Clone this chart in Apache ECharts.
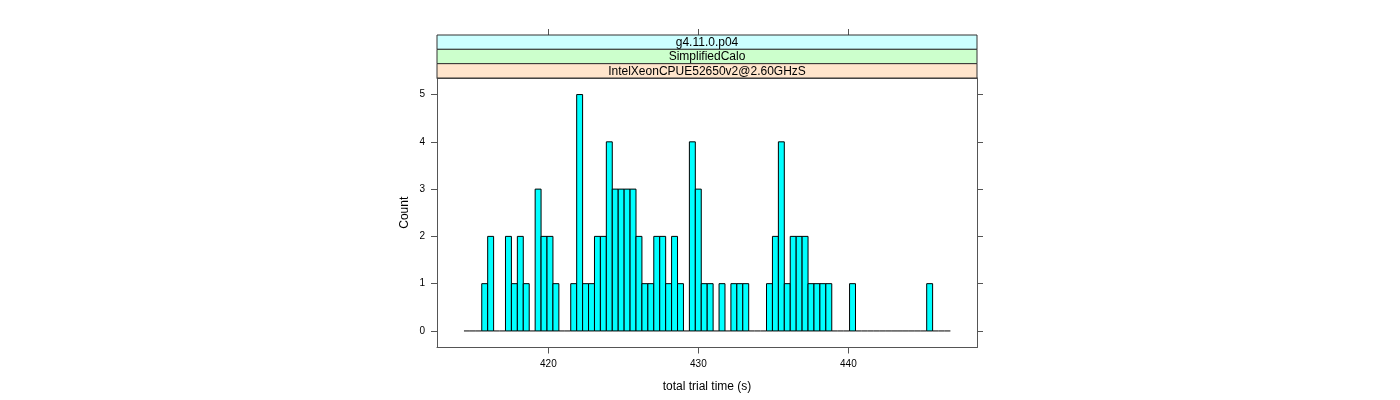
<!DOCTYPE html>
<html><head><meta charset="utf-8">
<script src="https://cdn.jsdelivr.net/npm/echarts@6/dist/echarts.min.js"></script>
<style>html,body{margin:0;padding:0;background:#fff}#c{width:1400px;height:400px}</style>
</head><body><div id="c"></div>
<script>
// Histogram bins: first break and bin width, counts per bin
const breakStart = 414.37;
const binWidth = 0.3955;
const counts = [0,0,0,1,2,0,0,2,1,2,1,0,3,2,2,1,0,0,1,5,1,1,2,2,4,3,3,3,3,2,1,1,2,2,1,2,1,0,4,3,1,1,0,1,0,1,1,1,0,0,0,1,2,4,1,2,2,2,1,1,1,1,0,0,0,1,0,0,0,0,0,0,0,0,0,0,0,0,1,0,0,0];
const xTicks = [420, 430, 440];
const yTicks = [0, 1, 2, 3, 4, 5];
const xRange = [412.573, 448.573];
const yRange = [-0.35, 5.35];
const strips = ['g4.11.0.p04', 'SimplifiedCalo', 'IntelXeonCPUE52650v2@2.60GHzS'];
const stripColors = ['#ccffff', '#ccffcc', '#ffe5cc'];
const xTitle = 'total trial time (s)';
const yTitle = 'Count';

const rows = counts.map((c, i) => [breakStart + i * binWidth, breakStart + (i + 1) * binWidth, c]);

const FONT = 'Liberation Sans, Arial, sans-serif';
const frame = '#555';
const chart = echarts.init(document.getElementById('c'), null, {renderer: 'canvas'});

const gLeft = 437, gRight = 977, gTop = 78, gBottom = 347.5, stripTop = 35;
const sh = (gTop - stripTop) / 3;
const graphics = [];
strips.forEach((s, i) => {
  const y = stripTop + i * sh;
  graphics.push({type: 'rect', shape: {x: gLeft, y: y, width: gRight - gLeft, height: sh},
    style: {fill: stripColors[i], stroke: '#333', lineWidth: 1}, z: 10});
  graphics.push({type: 'text', x: (gLeft + gRight) / 2, y: y + sh / 2 + 0.5,
    style: {text: s, fill: '#000', font: '12px ' + FONT, align: 'center', verticalAlign: 'middle'}, z: 11});
});

const lineSty = {show: true, onZero: false, lineStyle: {color: frame, width: 1}};
chart.setOption({
  animation: false,
  backgroundColor: '#fff',
  grid: {left: gLeft, top: gTop, width: gRight - gLeft, height: gBottom - gTop, show: false,
    containLabel: false, outerBoundsMode: 'none'},
  xAxis: [{
    type: 'value', min: xRange[0], max: xRange[1], position: 'bottom',
    axisLine: lineSty,
    axisTick: {show: true, customValues: xTicks, length: 6, lineStyle: {color: frame}},
    axisLabel: {customValues: xTicks, fontSize: 10, color: '#000', margin: 12, fontFamily: FONT},
    splitLine: {show: false},
    name: xTitle, nameLocation: 'middle', nameGap: 33,
    nameTextStyle: {fontSize: 12, color: '#000', fontFamily: FONT}
  }, {
    type: 'value', min: xRange[0], max: xRange[1], position: 'top', offset: 0,
    axisLine: lineSty,
    axisTick: {show: false}, axisLabel: {show: false}, splitLine: {show: false}
  }, {
    type: 'value', min: xRange[0], max: xRange[1], position: 'top', offset: gTop - stripTop,
    axisLine: {show: false, onZero: false},
    axisTick: {show: true, customValues: xTicks, length: 6, lineStyle: {color: frame}},
    axisLabel: {show: false}, splitLine: {show: false}
  }],
  yAxis: [{
    type: 'value', min: yRange[0], max: yRange[1], position: 'left',
    axisLine: lineSty,
    axisTick: {show: true, customValues: yTicks, length: 6, lineStyle: {color: frame}},
    axisLabel: {customValues: yTicks, fontSize: 10, color: '#000', margin: 12, fontFamily: FONT},
    splitLine: {show: false},
    name: yTitle, nameLocation: 'middle', nameGap: 26, nameRotate: 90,
    nameTextStyle: {fontSize: 12, color: '#000', fontFamily: FONT}
  }, {
    type: 'value', min: yRange[0], max: yRange[1], position: 'right',
    axisLine: lineSty,
    axisTick: {show: true, customValues: yTicks, length: 6, lineStyle: {color: frame}},
    axisLabel: {show: false}, splitLine: {show: false}
  }],
  series: [{
    type: 'custom', xAxisIndex: 0, yAxisIndex: 0,
    data: rows,
    encode: {x: [0, 1], y: 2},
    renderItem: function (params, api) {
      const x0 = api.value(0), x1 = api.value(1), c = api.value(2);
      const p0 = api.coord([x0, c]);
      const p1 = api.coord([x1, 0]);
      if (c === 0) {
        return {type: 'line', shape: {x1: p0[0], y1: p1[1], x2: p1[0], y2: p1[1]},
          style: {stroke: '#000', lineWidth: 1}};
      }
      return {type: 'rect', shape: {x: p0[0], y: p0[1], width: p1[0] - p0[0], height: p1[1] - p0[1]},
        style: {fill: '#00ffff', stroke: '#000', lineWidth: 1}};
    }
  }],
  graphic: graphics
});
</script>
</body></html>
